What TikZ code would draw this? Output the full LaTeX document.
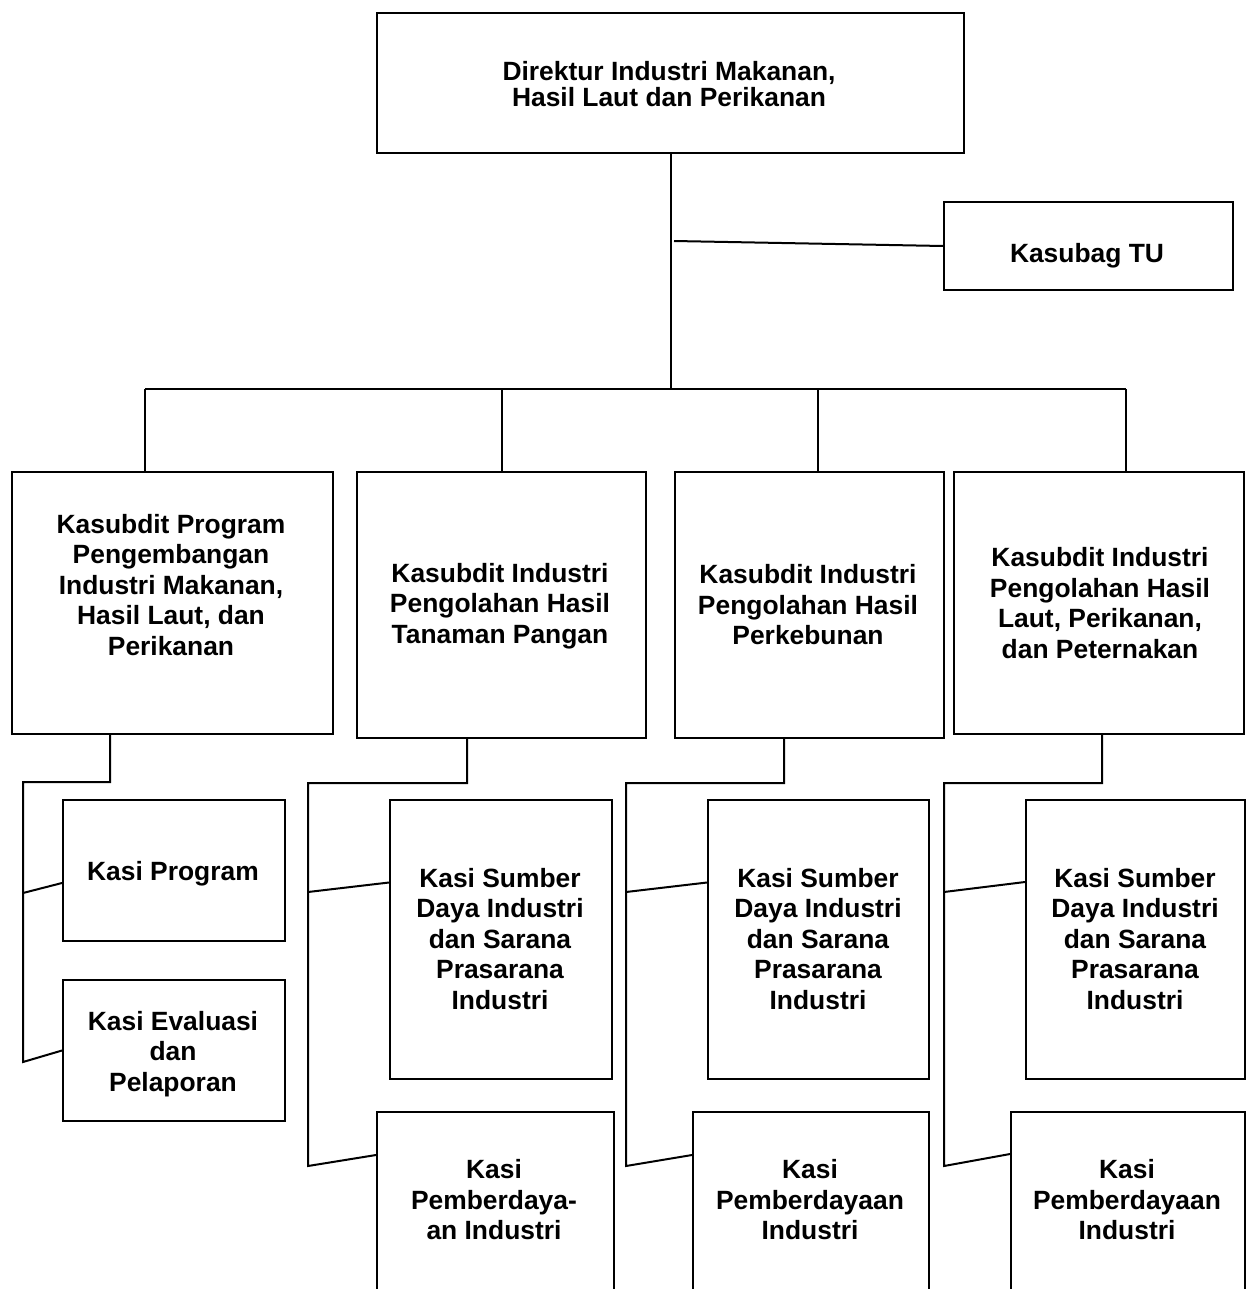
\documentclass[tikz,border=0pt]{standalone}
\usepackage{fontspec}
\setmainfont{Liberation Sans}
\begin{document}
\begin{tikzpicture}[x=1pt,y=-1pt,
  box/.style={draw, line width=2pt, inner sep=0pt, anchor=north west},
  lbl/.style={font=\bfseries\fontsize{26.4}{30.5}\selectfont, align=center, inner sep=0pt},
  conn/.style={line width=2pt}]
\useasboundingbox (0,0) rectangle (1246,1289);
\clip (0,0) rectangle (1246,1289);
\fill[white] (0,0) rectangle (1246,1289);
% boxes
\node[box, minimum width=587pt, minimum height=140pt] (dir) at (376,12) {};
\node[box, minimum width=289pt, minimum height=88pt] (tu) at (943,201) {};
\node[box, minimum width=321pt, minimum height=262pt] (b1) at (11,471) {};
\node[box, minimum width=289pt, minimum height=266pt] (b2) at (356,471) {};
\node[box, minimum width=269pt, minimum height=266pt] (b3) at (674,471) {};
\node[box, minimum width=290pt, minimum height=262pt] (b4) at (953,471) {};
\node[box, minimum width=222pt, minimum height=141pt] (kp) at (62,799) {};
\node[box, minimum width=222pt, minimum height=141pt] (ke) at (62,979) {};
\node[box, minimum width=222pt, minimum height=279pt] (s2) at (389,799) {};
\node[box, minimum width=237pt, minimum height=220pt] (p2) at (376,1111) {};
\node[box, minimum width=221pt, minimum height=279pt] (s3) at (707,799) {};
\node[box, minimum width=236pt, minimum height=220pt] (p3) at (692,1111) {};
\node[box, minimum width=219pt, minimum height=279pt] (s4) at (1025,799) {};
\node[box, minimum width=234pt, minimum height=220pt] (p4) at (1010,1111) {};
% texts
\node[lbl, font=\bfseries\fontsize{26.4}{26}\selectfont] (dirt) at (669,84) {Direktur Industri Makanan,\\Hasil Laut dan Perikanan};
\node[lbl] (tut) at (1087,256) {Kasubag TU};
\node[lbl] (b1t) at (171,585) {Kasubdit Program\\Pengembangan\\Industri Makanan,\\Hasil Laut, dan\\Perikanan};
\node[lbl] (b2t) at (500,606) {Kasubdit Industri\\Pengolahan Hasil\\Tanaman Pangan};
\node[lbl] (b3t) at (808,605) {Kasubdit Industri\\Pengolahan Hasil\\Perkebunan};
\node[lbl] (b4t) at (1100,603) {Kasubdit Industri\\Pengolahan Hasil\\Laut, Perikanan,\\dan Peternakan};
\node[lbl] (kpt) at (173,874) {Kasi Program};
\node[lbl] (ket) at (173,1054) {Kasi Evaluasi\\dan\\Pelaporan};
\node[lbl] (s2t) at (500,939) {Kasi Sumber\\Daya Industri\\dan Sarana\\Prasarana\\Industri};
\node[lbl] (s3t) at (818,939) {Kasi Sumber\\Daya Industri\\dan Sarana\\Prasarana\\Industri};
\node[lbl] (s4t) at (1135,939) {Kasi Sumber\\Daya Industri\\dan Sarana\\Prasarana\\Industri};
\node[lbl] (p2t) at (494,1200) {Kasi\\Pemberdaya-\\an Industri};
\node[lbl] (p3t) at (810,1200) {Kasi\\Pemberdayaan\\Industri};
\node[lbl] (p4t) at (1127,1200) {Kasi\\Pemberdayaan\\Industri};
% top connectors
\coordinate (busL) at (145,389);
\coordinate (busR) at (1126,389);
\coordinate (d3) at (818,389);
\coordinate (tuS) at (674,241);
\draw[conn] (dir.south) -- (dir.south |- busL);
\draw[conn] (busL) -- (busR);
\draw[conn] (busL) -- (busL |- b1.north);
\draw[conn] (b2.north |- busL) -- (b2.north);
\draw[conn] (d3) -- (d3 |- b3.north);
\draw[conn] (busR) -- (busR |- b4.north);
\draw[conn] (tuS) -- (tu.west);
% branch 1
\coordinate (c1) at (110,782);
\coordinate (v1a) at (23,893);
\coordinate (v1b) at (23,1062);
\draw[conn] (b1.south -| c1) -- (c1) -- (v1b |- c1) -- (v1b) -- (ke.west);
\draw[conn] (v1a) -- ([yshift=-12.5pt]kp.west);
% branch 2
\coordinate (c2) at (467,783);
\coordinate (v2a) at (308,892);
\coordinate (v2b) at (308,1166);
\draw[conn] (b2.south -| c2) -- (c2) -- (v2b |- c2) -- (v2b) -- ([yshift=-44pt]p2.north west);
\draw[conn] (v2a) -- ([yshift=57pt]s2.west);
% branch 3
\coordinate (c3) at (784,783);
\coordinate (v3a) at (626,892);
\coordinate (v3b) at (626,1166);
\draw[conn] (b3.south -| c3) -- (c3) -- (v3b |- c3) -- (v3b) -- ([yshift=-44pt]p3.north west);
\draw[conn] (v3a) -- ([yshift=57pt]s3.west);
% branch 4
\coordinate (c4) at (1102,783);
\coordinate (v4a) at (944,892);
\coordinate (v4b) at (944,1166);
\draw[conn] (b4.south -| c4) -- (c4) -- (v4b |- c4) -- (v4b) -- ([yshift=-43pt]p4.north west);
\draw[conn] (v4a) -- ([yshift=57.5pt]s4.west);
\end{tikzpicture}
\end{document}
